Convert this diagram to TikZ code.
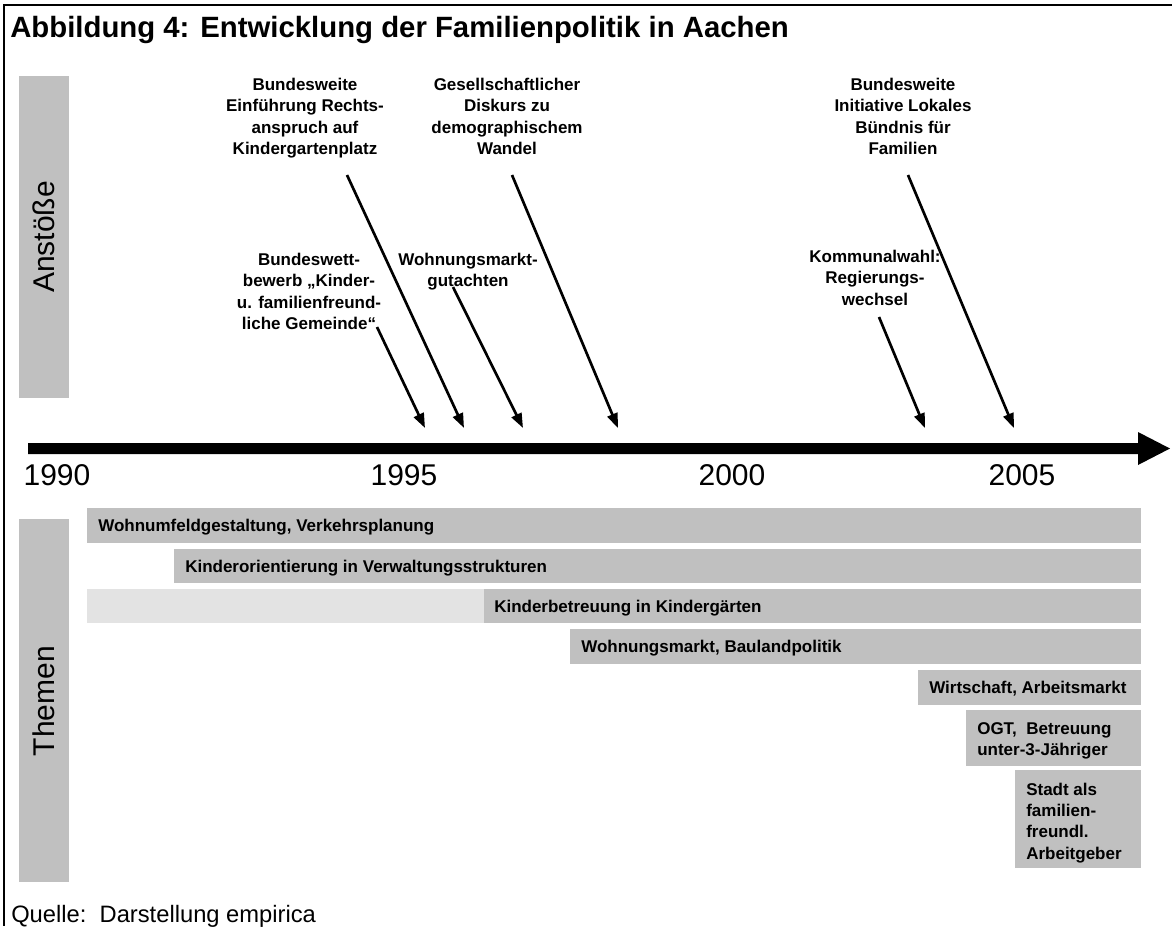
\documentclass[tikz,border=0pt]{standalone}
\usepackage{fontspec}
\setmainfont{Liberation Sans}
\usetikzlibrary{arrows.meta}
\definecolor{bargray}{RGB}{192,192,192}
\definecolor{lightdot}{RGB}{227,227,227}
\begin{document}
\begin{tikzpicture}[x=0.75pt,y=-0.75pt,
  lbl/.style={align=center, anchor=north, inner sep=0pt, font=\fontsize{12.75pt}{16pt}\selectfont\bfseries},
  bartxt/.style={align=left, anchor=north west, inner sep=0pt, font=\fontsize{12.75pt}{15.9pt}\selectfont\bfseries},
  sidetxt/.style={rotate=90, inner sep=0pt, font=\fontsize{22.5pt}{27pt}\selectfont},
  year/.style={anchor=base, inner sep=0pt, font=\fontsize{22.5pt}{27pt}\selectfont},
  ptr/.style={line width=2pt, -{Triangle[length=11pt,width=8pt]}},
  frame/.style={line width=1.7pt, draw=black},
]
\useasboundingbox (0,0) rectangle (1172,926);
\fill[white] (0,0) rectangle (1172,926);
% frame
\draw[frame] (1172,5) -- (4,5) -- (4,926);
% title
\node[anchor=base west, inner sep=0pt, font=\fontsize{22pt}{26pt}\selectfont\bfseries] (title) at (10,37.5)
  {Abbildung 4: Entwicklung der Familienpolitik in Aachen};
% side bars
\fill[bargray] (19,76) rectangle (69,398);
\node[sidetxt] (anst) at (44,237) {Anstöße};
\fill[bargray] (19,519) rectangle (69,882);
\node[sidetxt] (themen) at (44,701) {Themen};
% timeline
\fill[black] (28,443) -- (1138,443) -- (1138,432) -- (1170,448.5) -- (1138,465) -- (1138,454) -- (28,454) -- cycle;
\node[year] (y1990) at (57,485.5) {1990};
\node[year] (y1995) at (404,485.5) {1995};
\node[year] (y2000) at (732,485.5) {2000};
\node[year] (y2005) at (1022,485.5) {2005};
% labels (Anstoesse)
\node[lbl] (a2) at (305,77.9) {Bundesweite\\Einführung Rechts-\\anspruch auf\\Kindergartenplatz};
\node[lbl] (a3) at (507,77.9) {Gesellschaftlicher\\Diskurs zu\\demographischem\\Wandel};
\node[lbl] (a6) at (903,77.9) {Bundesweite\\Initiative Lokales\\Bündnis für\\Familien};
\node[lbl] (a1) at (309,252.9) {Bundeswett-\\bewerb „Kinder-\\u. familienfreund-\\liche Gemeinde“};
\node[lbl] (a4) at (468,252.9) {Wohnungsmarkt-\\gutachten};
\node[lbl] (a5) at (875,249.9) {Kommunalwahl:\\Regierungs-\\wechsel};
% arrow anchors
\coordinate (s1) at (377,327); \coordinate (e1) at (425,428);
\coordinate (s2) at (347,175); \coordinate (e2) at (464,428);
\coordinate (s4) at (453,287); \coordinate (e4) at (523,428);
\coordinate (s3) at (512,175); \coordinate (e3) at (618,428);
\coordinate (s5) at (879,317); \coordinate (e5) at (925,428);
\coordinate (s6) at (908,175); \coordinate (e6) at (1014,428);
\draw[ptr] (s1) -- (e1);
\draw[ptr] (s2) -- (e2);
\draw[ptr] (s4) -- (e4);
\draw[ptr] (s3) -- (e3);
\draw[ptr] (s5) -- (e5);
\draw[ptr] (s6) -- (e6);
% theme bars
\fill[bargray] (87,508) rectangle (1141,543);
\node[bartxt] (t1) at (98,519.4) {Wohnumfeldgestaltung, Verkehrsplanung};
\fill[bargray] (174,549) rectangle (1141,583);
\node[bartxt] (t2) at (185,559.9) {Kinderorientierung in Verwaltungsstrukturen};
\fill[lightdot] (87,589) rectangle (484,623);
\fill[bargray] (484,589) rectangle (1141,623);
\node[bartxt] (t3) at (494,599.9) {Kinderbetreuung in Kindergärten};
\fill[bargray] (570,629) rectangle (1141,664);
\node[bartxt] (t4) at (581,640.4) {Wohnungsmarkt, Baulandpolitik};
\fill[bargray] (918,670) rectangle (1141,705);
\node[bartxt] (t5) at (929,681.4) {Wirtschaft, Arbeitsmarkt};
\fill[bargray] (966,710) rectangle (1141,766);
\node[bartxt] (t6) at (977,721.9) {OGT,\ \ Betreuung\\unter-3-Jähriger};
\fill[bargray] (1015,770) rectangle (1141,868);
\node[bartxt] (t7) at (1026,782.9) {Stadt als\\familien-\\freundl.\\Arbeitgeber};
% source
\node[anchor=base west, inner sep=0pt, font=\fontsize{17.8pt}{21pt}\selectfont] (quelle) at (11,922)
  {Quelle:\ \ Darstellung empirica};
\end{tikzpicture}
\end{document}
